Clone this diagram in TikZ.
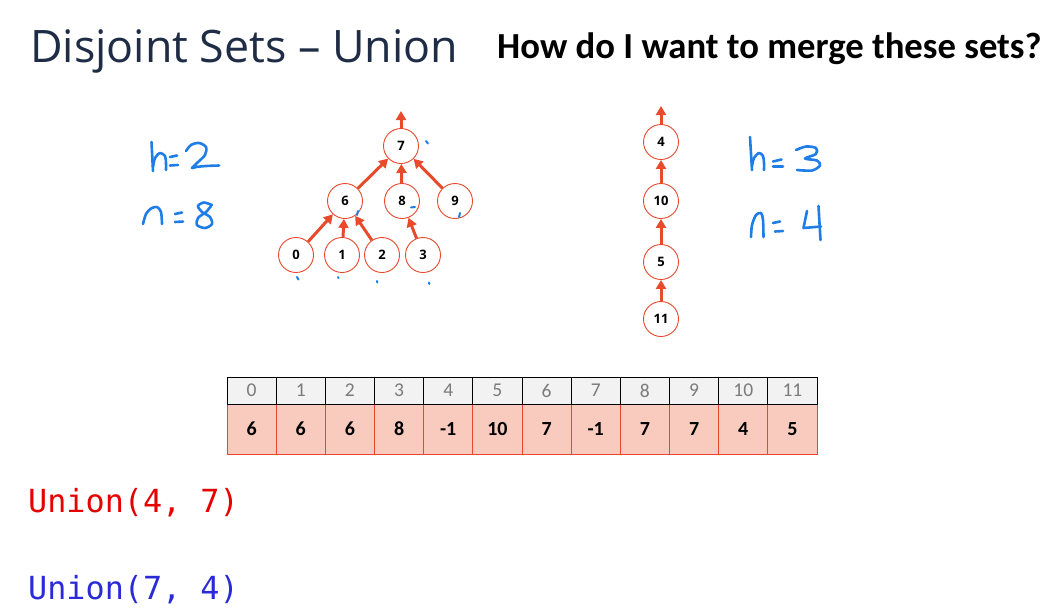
\documentclass[tikz,border=0pt]{standalone}
\usepackage{fontspec}
\setmainfont{Carlito}
\newfontfamily\titlefont{Open Sans}
\newfontfamily\codefont{DejaVu Sans Mono}
\newfontfamily\numfont{Open Sans}
\usetikzlibrary{arrows.meta}
\definecolor{titleblue}{HTML}{1E2C45}
\definecolor{ringred}{HTML}{E8472B}
\definecolor{arrowred}{HTML}{E84B2C}
\definecolor{cellpink}{HTML}{F8CBBE}
\definecolor{headgrey}{HTML}{F2F2F2}
\definecolor{headtext}{HTML}{7A7A7A}
\definecolor{inkblue}{HTML}{1E7DE6}
\definecolor{codered}{HTML}{E60000}
\definecolor{codeblue}{HTML}{2A2AD9}
\begin{document}
\begin{tikzpicture}[x=1pt,y=-1pt,
  setnode/.style={circle, draw=ringred, line width=0.9pt, fill=white,
    minimum size=35pt, inner sep=0pt,
    font=\numfont\bfseries\fontsize{13}{13}\selectfont},
  parent/.style={draw=arrowred, line width=3pt,
    -{Triangle[length=9pt,width=10pt]}},
  ink/.style={draw=inkblue, line width=2.6pt, line cap=round, line join=round},
  dot/.style={draw=inkblue, line width=2pt, line cap=round},
  headcell/.style={rectangle, draw=black, line width=0.8pt, fill=headgrey,
    minimum width=49.17pt, minimum height=27pt, inner sep=0pt,
    text=headtext, font=\fontsize{19.5}{19.5}\selectfont},
  valcell/.style={rectangle, draw=ringred, line width=0.9pt, fill=cellpink,
    minimum width=49.17pt, minimum height=50pt, inner sep=0pt,
    font=\bfseries\fontsize{20}{20}\selectfont},
  code/.style={anchor=base west, inner sep=0pt,
    font=\codefont\fontsize{31.8}{31.8}\selectfont}]
\useasboundingbox (0,0) rectangle (1061,614);

% headings
\node[anchor=base west, inner sep=0pt, text=titleblue] (title) at (30,62)
  {\resizebox{428pt}{!}{\titlefont\fontsize{46}{46}\selectfont Disjoint Sets – Union}};
\node[anchor=base west, inner sep=0pt] (question) at (497,58)
  {\bfseries\fontsize{36.7}{36.7}\selectfont How do I want to merge these sets?};

% first tree (root 7)
\node[setnode] (n7) at (401,146) {7};
\node[setnode] (n6) at (345,201) {6};
\node[setnode] (n8) at (402,201) {8};
\node[setnode] (n9) at (455,201) {9};
\node[setnode] (n0) at (296,255) {0};
\node[setnode] (n1) at (342,255) {1};
\node[setnode] (n2) at (382,255) {2};
\node[setnode] (n3) at (423,255) {3};
\coordinate (top7) at (401,111);
\draw[parent] (n7) -- (top7);
\draw[parent] (n6) -- (n7);
\draw[parent] (n8) -- (n7);
\draw[parent] (n9) -- (n7);
\draw[parent] (n0) -- (n6);
\draw[parent] (n1) -- (n6);
\draw[parent] (n2) -- (n6);
\draw[parent] (n3) -- (n8);

% second tree (root 4), a chain
\node[setnode] (n4)  at (661,142) {4};
\node[setnode] (n10) at (661,201) {10};
\node[setnode] (n5)  at (661,262) {5};
\node[setnode] (n11) at (661,319) {11};
\coordinate (top4) at (661,106);
\draw[parent] (n4) -- (top4);
\draw[parent] (n10) -- (n4);
\draw[parent] (n5) -- (n10);
\draw[parent] (n11) -- (n5);

% handwritten notes, left tree: h=2, n=8
\draw[ink] (151.5,142) -- (153,171);
\draw[ink] plot[smooth] coordinates {(153,167) (155,158) (160,153) (165,156) (166,163) (166,170)};
\draw[ink] (170,157) -- (177,155.5);
\draw[ink] (170,165.5) -- (178,165);
\draw[ink] plot[smooth] coordinates {(186,151) (191,145) (199,143) (206,147) (205,155) (197,163) (192,168) (196,167) (206,166) (219,165.5)};
\draw[ink] plot[smooth] coordinates {(143,224) (146,214) (151,208.5) (157,207) (161,212) (162,224)};
\draw[ink] (175,214) -- (182,212.5);
\draw[ink] (175,222) -- (183,221.5);
\draw[ink] plot[smooth] coordinates {(212,205) (204,202.5) (198,206) (202,212) (210,217) (212,224) (205,228) (197,225) (198,218) (206,212) (211,206)};

% handwritten notes, right tree: h=3, n=4
\draw[ink] (750,137) -- (752,170);
\draw[ink] plot[smooth] coordinates {(752,166) (754,158) (759,153) (763,156) (764,163) (764,170)};
\draw[ink] (773,161.5) -- (781.5,159.5);
\draw[ink] (773,166.5) -- (783,166.5);
\draw[ink] plot[smooth] coordinates {(796,150) (806,146.5) (816,148) (816,154) (805,158.5) (817,160.5) (820,165.5) (812,170.5) (797,170)};
\draw[ink] plot[smooth] coordinates {(751,237) (752,225) (756,215) (761,213) (763,220) (763.5,237)};
\draw[ink] (773,223) -- (780,221.5);
\draw[ink] (775,231.5) -- (783,231);
\draw[ink] (807,211) -- (803.5,228) -- (821,226.5);
\draw[ink] (818.5,206) -- (820.5,240);

% small pen marks
\draw[dot] (426,141) -- (428,143.5);
\draw[dot] (358,211) -- (357,215);
\draw[dot] (411,207.5) -- (415,207);
\draw[dot] (460,213) -- (459,217);
\draw[dot] (297,277) -- (298.5,279.5);
\draw[dot] (338,277) -- (338.5,278);
\draw[dot] (377,281) -- (377.3,282.5);
\draw[dot] (429,282.5) -- (429.3,284);

% parent array
\foreach \i/\v in {0/6,1/6,2/6,3/8,4/-1,5/10,6/7,7/-1,8/7,9/7,10/4,11/5}{
  \node[valcell] (v\i) at ({227+(\i+0.5)*49.1667},429) {\v};
}
\foreach \i in {0,...,11}{
  \node[headcell] (h\i) at ({227+(\i+0.5)*49.1667},390.5) {\i};
}

% calls
\node[code, text=codered]  (call1) at (28,512) {Union(4, 7)};
\node[code, text=codeblue] (call2) at (28,599) {Union(7, 4)};
\end{tikzpicture}
\end{document}
